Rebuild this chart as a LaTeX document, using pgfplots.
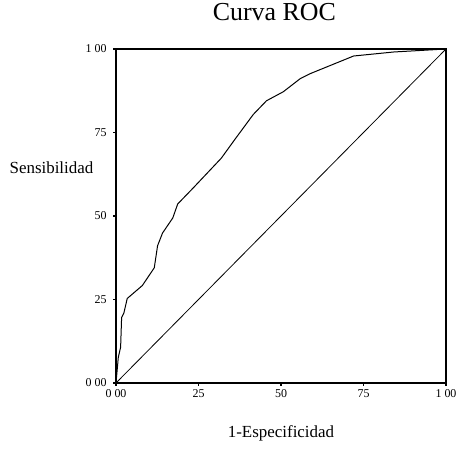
\documentclass[border=0pt]{standalone}
\usepackage{fontspec}
\setmainfont{Liberation Serif}
\usepackage{pgfplots}
\pgfplotsset{compat=1.18}
\begin{document}
\begin{tikzpicture}
\useasboundingbox (0,0) rectangle (456bp,452bp);
\begin{axis}[
    at={(116bp,69bp)}, anchor=south west,
    scale only axis,
    width=330bp, height=334bp,
    xmin=0, xmax=1, ymin=0, ymax=1,
    xtick={0,0.25,0.5,0.75,1},
    ytick={0,0.25,0.5,0.75,1},
    xtick pos=left, ytick pos=left,
    xticklabels={0 00,25,50,75,1 00},
    yticklabels={0 00,25,50,75,1 00},
    /pgf/number format/assume math mode=true,
    ticklabel style={font=\fontsize{12}{13}\selectfont},
    yticklabel style={xshift=-3bp},
    tick align=outside,
    major tick length=3bp,
    tick style={black, line width=1.2pt},
    axis line style={line width=1.2pt},
    title={Curva ROC},
    title style={font=\fontsize{26}{28}\selectfont, at={(axis description cs:0.48,1.066)}, anchor=base},
    xlabel={1-Especificidad},
    xlabel style={font=\fontsize{17}{19}\selectfont, at={(axis description cs:0.5,-0.15)}, anchor=center},
    ylabel={Sensibilidad},
    ylabel style={font=\fontsize{17}{19}\selectfont, rotate=-90, at={(axis description cs:-0.058,0.644)}, anchor=east},
]
\addplot[black, line width=1pt] coordinates {
(0,0) (0.007,0.077) (0.014,0.107) (0.017,0.196) (0.024,0.21) (0.034,0.253)
(0.080,0.292) (0.116,0.345) (0.126,0.411) (0.141,0.449) (0.172,0.494)
(0.187,0.536) (0.233,0.583) (0.319,0.673) (0.360,0.729) (0.416,0.804)
(0.456,0.845) (0.507,0.872) (0.558,0.911) (0.588,0.926) (0.72,0.979)
(0.841,0.991) (1,1)
};
\addplot[black, line width=0.8pt] coordinates {(0,0) (1,1)};
\end{axis}
\end{tikzpicture}
\end{document}
